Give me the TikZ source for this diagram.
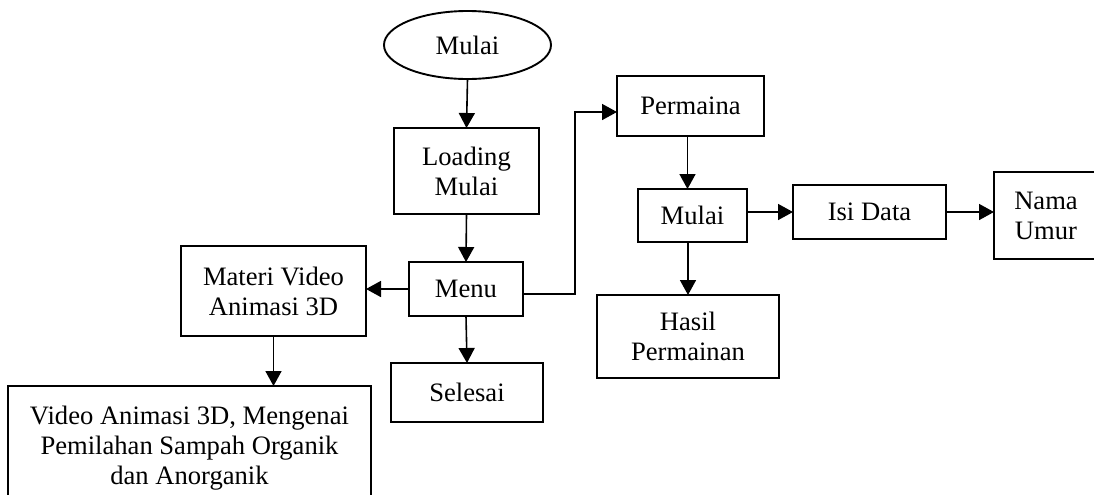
\documentclass[tikz,border=0pt]{standalone}
\usepackage{fontspec}
\setmainfont{Liberation Serif}
\usetikzlibrary{shapes.geometric,arrows.meta,calc}
\begin{document}
\begin{tikzpicture}[x=0.5pt,y=-0.5pt,
  every node/.style={font=\fontsize{13.3pt}{15pt}\selectfont,inner sep=0pt,outer sep=0pt,align=center},
  box/.style={draw,line width=0.8pt,rectangle},
  conn/.style={line width=0.8pt,-{Triangle[length=7.5pt,width=8pt]}}]
\clip (0,0) rectangle (1094,494);
\useasboundingbox (0,0) rectangle (1094,494);
\node[draw,ellipse,line width=0.95pt,minimum width=83.5pt,minimum height=34pt] (start) at (467.5,45) {Mulai};
\node[box,line width=1.2pt,minimum width=72.5pt,minimum height=43pt] (load) at (466.5,171) {Loading\\Mulai};
\node[box,minimum width=57pt,minimum height=27pt] (menu) at (466,289) {Menu};
\node[box,minimum width=92.5pt,minimum height=45pt] (materi) at (273.5,291) {Materi Video\\Animasi 3D};
\node[box,minimum width=76pt,minimum height=29.5pt] (selesai) at (467,392.5) {Selesai};
\node[box,minimum width=181.5pt,minimum height=62pt] (video) at (189.5,448) {Video Animasi 3D, Mengenai\\Pemilahan Sampah Organik\\dan Anorganik};
\node[box,minimum width=73.5pt,minimum height=30pt] (perm) at (690.5,106) {Permaina};
\node[box,minimum width=54.5pt,minimum height=26.5pt] (mulai) at (692.5,215.5) {Mulai};
\node[box,minimum width=76.5pt,minimum height=27pt] (isi) at (869.5,212) {Isi Data};
\node[box,minimum width=52pt,minimum height=43.5pt] (nama) at (1046,215.5) {Nama\\Umur};
\node[box,minimum width=91pt,minimum height=41.5pt] (hasil) at (688,336.5) {Hasil\\Permainan};
\coordinate (bend) at (575,294);
\coordinate (pin) at ($(perm.west)+(0,6)$);
\coordinate (pout) at ($(perm.south)+(-3,0)$);
\draw[conn] (start.south) -- (load.north);
\draw[conn] (load.south) -- (menu.north);
\draw[conn] (menu.west) -- (menu.west -| materi.east);
\draw[conn] (menu.south) -- (selesai.north);
\draw[conn] (materi.south) -- (materi.south |- video.north);
\draw[conn] (menu.east |- bend) -- (bend) |- (pin);
\draw[conn] (pout) -- (pout |- mulai.north);
\draw[conn] (hasil.north |- mulai.south) -- (hasil.north);
\draw[conn] (mulai.east |- isi.west) -- (isi.west);
\draw[conn] (isi.east) -- (isi.east -| nama.west);
\end{tikzpicture}
\end{document}
